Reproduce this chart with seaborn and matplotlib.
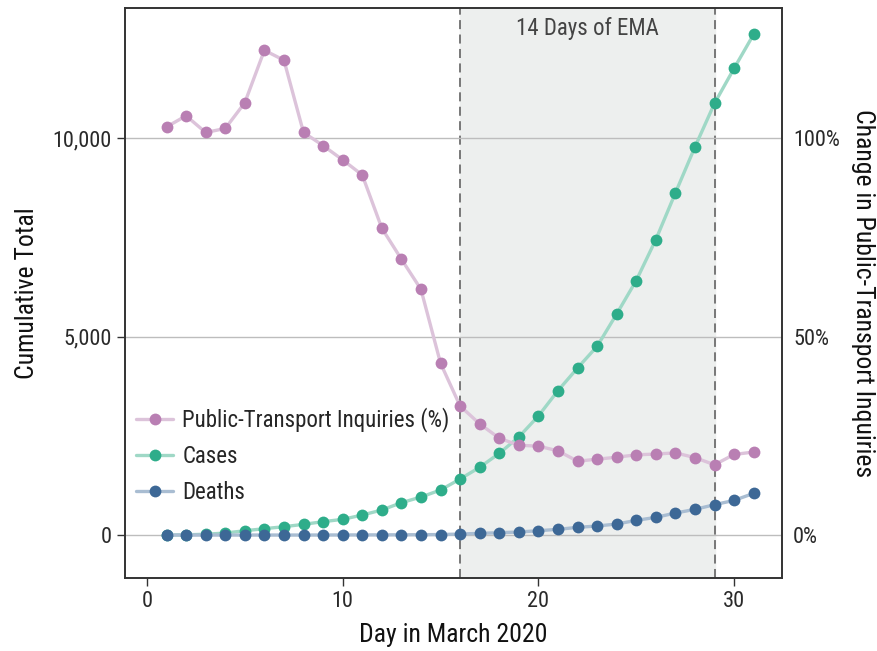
import matplotlib
matplotlib.use("Agg")
import matplotlib.pyplot as plt
from matplotlib import font_manager
from matplotlib.ticker import FuncFormatter, FixedLocator
import numpy as np
import pandas as pd
import seaborn as sns

# ---- data -------------------------------------------------------------
days = list(range(1, 32))
transport_pct = [102.8, 105.6, 101.4, 102.4, 108.9, 122.1, 119.6, 101.4, 98.1, 94.5,
                 90.7, 77.3, 69.5, 61.9, 43.3, 32.5, 28.0, 24.4, 22.6, 22.4,
                 21.2, 18.6, 19.1, 19.6, 20.2, 20.4, 20.7, 19.5, 17.7, 20.3, 20.9]
cases = [0, 5, 20, 50, 108, 160, 210, 269, 336, 395,
         504, 630, 814, 957, 1134, 1411, 1705, 2057, 2469, 2998,
         3636, 4207, 4752, 5567, 6410, 7439, 8615, 9774, 10874, 11755, 12612]
deaths = [0, 0, 0, 0, 0, 0, 0, 0, 1, 2,
          3, 4, 6, 8, 12, 25, 42, 59, 76, 109,
          143, 193, 227, 277, 369, 445, 554, 646, 764, 873, 1049]
ema_start, ema_end = 16, 29
left_ticks = [0, 5000, 10000]
right_ticks = [0, 50, 100]

df = pd.DataFrame({"day": days, "transport": transport_pct,
                   "cases": cases, "deaths": deaths})

# ---- style ------------------------------------------------------------
sns.set_theme(style="white")
available = {f.name for f in font_manager.fontManager.ttflist}
family = [f for f in ["Roboto Condensed", "Liberation Sans Narrow", "Roboto", "DejaVu Sans"]
          if f in available]
plt.rcParams["font.family"] = family
plt.rcParams["axes.edgecolor"] = "#333333"

purple_pt, purple_ln = "#b97fb3", "#dcc3da"
green_pt, green_ln = "#2ead8a", "#9fd8c6"
blue_pt, blue_ln = "#3d6896", "#a9bdd2"

fig = plt.figure(figsize=(8.78, 6.51), dpi=100)
ax = fig.add_axes([0.1424, 0.1121, 0.7483, 0.8756])
ax2 = ax.twinx()

ymin, ymax = -1083, 13275
ax.set_xlim(-1.12, 32.45)
ax.set_ylim(ymin, ymax)
ax2.set_ylim(ymin / 100, ymax / 100)

# EMA window
ax.axvspan(ema_start, ema_end, color="#edefee", zorder=0)
for xv in (ema_start, ema_end):
    ax.axvline(xv, color="#6e6e6e", linestyle=(0, (5, 3)), linewidth=1.3, zorder=1)
ax.text((ema_start + ema_end) / 2, 12770, "14 Days of EMA", ha="center", va="center",
        fontsize=16.5, color="#444444")

# horizontal reference lines
for yv in left_ticks:
    ax.axhline(yv, color="#bdbdbd", linewidth=1.0, zorder=1)

line_kw = dict(marker="o", markersize=8.5, linewidth=2.4, markeredgewidth=0)
sns.lineplot(data=df, x="day", y="cases", ax=ax, color=green_ln,
             markerfacecolor=green_pt, label="Cases", legend=False, zorder=3, **line_kw)
sns.lineplot(data=df, x="day", y="deaths", ax=ax, color=blue_ln,
             markerfacecolor=blue_pt, label="Deaths", legend=False, zorder=4, **line_kw)
sns.lineplot(data=df, x="day", y="transport", ax=ax2, color=purple_ln,
             markerfacecolor=purple_pt, label="Public-Transport Inquiries (%)",
             legend=False, zorder=3, **line_kw)

# axes formatting
ax.yaxis.set_major_locator(FixedLocator(left_ticks))
ax.yaxis.set_major_formatter(FuncFormatter(lambda v, p: f"{int(v):,}"))
ax.set_xticks([0, 10, 20, 30])
ax2.yaxis.set_major_locator(FixedLocator(right_ticks))
ax2.yaxis.set_major_formatter(FuncFormatter(lambda v, p: f"{int(v)}%"))

ax.tick_params(axis="both", labelsize=16, labelcolor="#2a2a2a", length=6,
               color="#333333", width=1)
ax.tick_params(axis="x", bottom=True, direction="out")
ax.tick_params(axis="y", left=True, direction="out")
ax2.tick_params(axis="y", labelsize=16, labelcolor="#2a2a2a", length=0, pad=8)

ax.set_xlabel("Day in March 2020", fontsize=18.5, color="#111111", labelpad=8)
ax.set_ylabel("Cumulative Total", fontsize=18.5, color="#111111", labelpad=10)
ax2.set_ylabel("Change in Public-Transport Inquiries", fontsize=18.5, color="#111111",
               rotation=-90, va="bottom", labelpad=8)

for a in (ax, ax2):
    for s in a.spines.values():
        s.set_color("#333333")
        s.set_linewidth(1.2)

h1, l1 = ax.get_legend_handles_labels()
h2, l2 = ax2.get_legend_handles_labels()
ax2.legend(h2 + h1, l2 + l1, loc="center left", bbox_to_anchor=(0.0, 0.215),
           frameon=False, fontsize=16.5, handlelength=1.6, labelspacing=0.55,
           handletextpad=0.4, borderaxespad=0.1)

fig.savefig("out.png", dpi=100)
